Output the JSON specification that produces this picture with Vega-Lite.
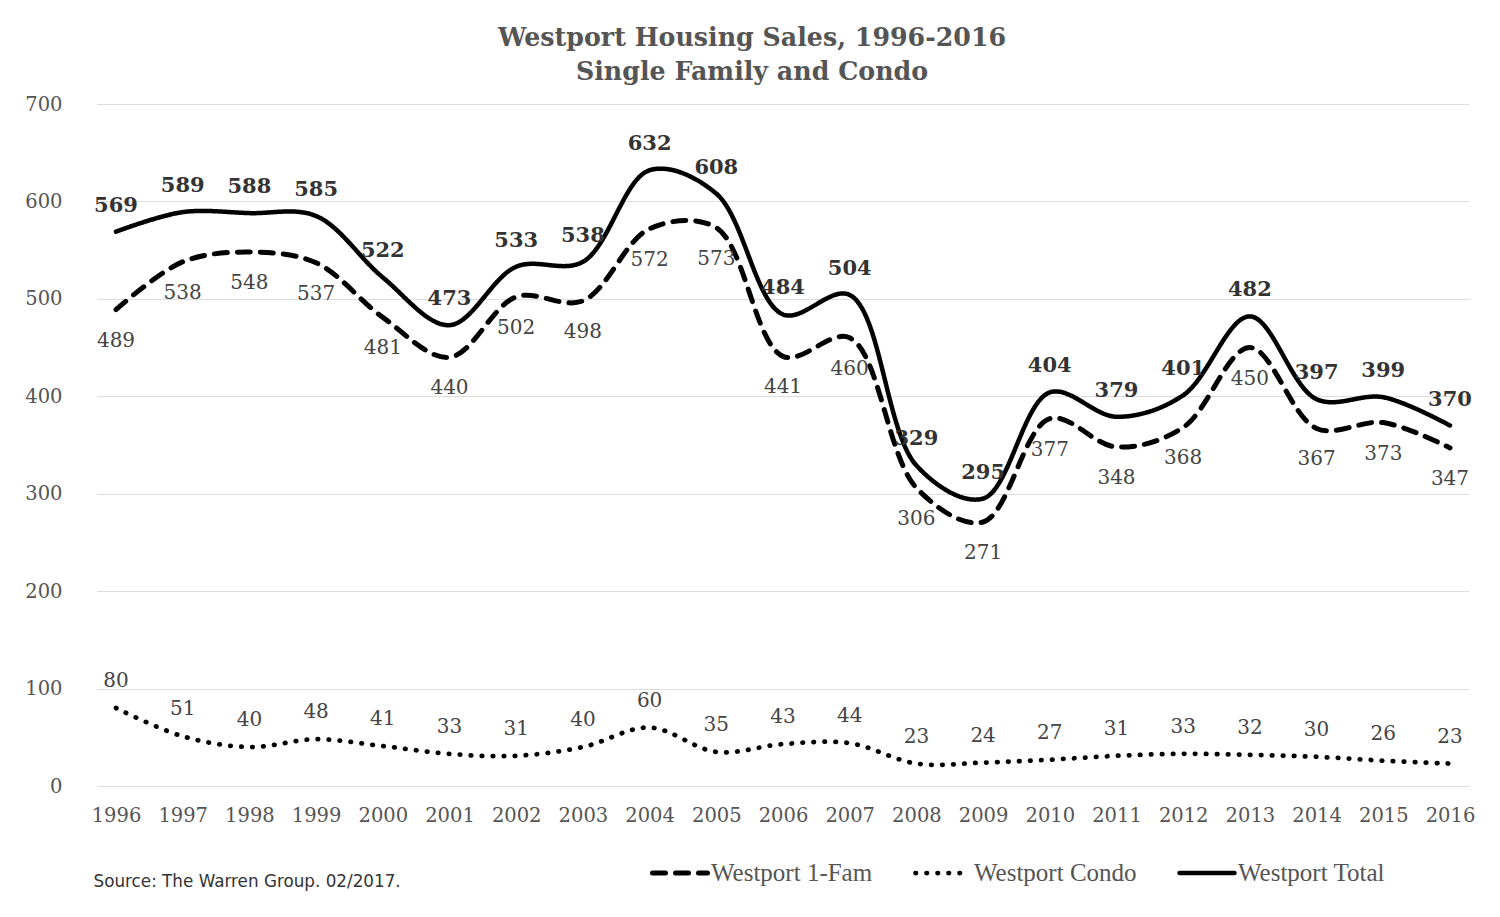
{
  "$schema": "https://vega.github.io/schema/vega-lite/v6.json",
  "width": 1372,
  "height": 682,
  "autosize": {"type": "none"},
  "padding": {"left": 97, "top": 104, "right": 31, "bottom": 131},
  "background": "white",
  "title": {
    "text": ["Westport Housing Sales, 1996-2016", "Single Family and Condo"],
    "anchor": "middle",
    "dx": -31,
    "offset": 9,
    "font": "DejaVu Serif",
    "fontSize": 25.3,
    "fontWeight": "bold",
    "lineHeight": 34,
    "color": "#555555"
  },
  "config": {
    "view": {"stroke": null},
    "axis": {"labelFont": "DejaVu Serif", "labelColor": "#555555", "labelFontSize": 19.5}
  },
  "data": {
    "values": [
      {"year": "1996", "series": "Westport 1-Fam", "value": 489},
      {"year": "1997", "series": "Westport 1-Fam", "value": 538},
      {"year": "1998", "series": "Westport 1-Fam", "value": 548},
      {"year": "1999", "series": "Westport 1-Fam", "value": 537},
      {"year": "2000", "series": "Westport 1-Fam", "value": 481},
      {"year": "2001", "series": "Westport 1-Fam", "value": 440},
      {"year": "2002", "series": "Westport 1-Fam", "value": 502},
      {"year": "2003", "series": "Westport 1-Fam", "value": 498},
      {"year": "2004", "series": "Westport 1-Fam", "value": 572},
      {"year": "2005", "series": "Westport 1-Fam", "value": 573},
      {"year": "2006", "series": "Westport 1-Fam", "value": 441},
      {"year": "2007", "series": "Westport 1-Fam", "value": 460},
      {"year": "2008", "series": "Westport 1-Fam", "value": 306},
      {"year": "2009", "series": "Westport 1-Fam", "value": 271},
      {"year": "2010", "series": "Westport 1-Fam", "value": 377},
      {"year": "2011", "series": "Westport 1-Fam", "value": 348},
      {"year": "2012", "series": "Westport 1-Fam", "value": 368},
      {"year": "2013", "series": "Westport 1-Fam", "value": 450},
      {"year": "2014", "series": "Westport 1-Fam", "value": 367},
      {"year": "2015", "series": "Westport 1-Fam", "value": 373},
      {"year": "2016", "series": "Westport 1-Fam", "value": 347},
      {"year": "1996", "series": "Westport Condo", "value": 80},
      {"year": "1997", "series": "Westport Condo", "value": 51},
      {"year": "1998", "series": "Westport Condo", "value": 40},
      {"year": "1999", "series": "Westport Condo", "value": 48},
      {"year": "2000", "series": "Westport Condo", "value": 41},
      {"year": "2001", "series": "Westport Condo", "value": 33},
      {"year": "2002", "series": "Westport Condo", "value": 31},
      {"year": "2003", "series": "Westport Condo", "value": 40},
      {"year": "2004", "series": "Westport Condo", "value": 60},
      {"year": "2005", "series": "Westport Condo", "value": 35},
      {"year": "2006", "series": "Westport Condo", "value": 43},
      {"year": "2007", "series": "Westport Condo", "value": 44},
      {"year": "2008", "series": "Westport Condo", "value": 23},
      {"year": "2009", "series": "Westport Condo", "value": 24},
      {"year": "2010", "series": "Westport Condo", "value": 27},
      {"year": "2011", "series": "Westport Condo", "value": 31},
      {"year": "2012", "series": "Westport Condo", "value": 33},
      {"year": "2013", "series": "Westport Condo", "value": 32},
      {"year": "2014", "series": "Westport Condo", "value": 30},
      {"year": "2015", "series": "Westport Condo", "value": 26},
      {"year": "2016", "series": "Westport Condo", "value": 23},
      {"year": "1996", "series": "Westport Total", "value": 569},
      {"year": "1997", "series": "Westport Total", "value": 589},
      {"year": "1998", "series": "Westport Total", "value": 588},
      {"year": "1999", "series": "Westport Total", "value": 585},
      {"year": "2000", "series": "Westport Total", "value": 522},
      {"year": "2001", "series": "Westport Total", "value": 473},
      {"year": "2002", "series": "Westport Total", "value": 533},
      {"year": "2003", "series": "Westport Total", "value": 538},
      {"year": "2004", "series": "Westport Total", "value": 632},
      {"year": "2005", "series": "Westport Total", "value": 608},
      {"year": "2006", "series": "Westport Total", "value": 484},
      {"year": "2007", "series": "Westport Total", "value": 504},
      {"year": "2008", "series": "Westport Total", "value": 329},
      {"year": "2009", "series": "Westport Total", "value": 295},
      {"year": "2010", "series": "Westport Total", "value": 404},
      {"year": "2011", "series": "Westport Total", "value": 379},
      {"year": "2012", "series": "Westport Total", "value": 401},
      {"year": "2013", "series": "Westport Total", "value": 482},
      {"year": "2014", "series": "Westport Total", "value": 397},
      {"year": "2015", "series": "Westport Total", "value": 399},
      {"year": "2016", "series": "Westport Total", "value": 370}
    ]
  },
  "encoding": {
    "x": {
      "field": "year",
      "type": "ordinal",
      "scale": {"type": "point", "padding": 0.285},
      "axis": {
        "labelAngle": 0,
        "domain": false,
        "ticks": false,
        "labelPadding": 20,
        "title": "Source: The Warren Group. 02/2017.",
        "titleFont": "DejaVu Sans",
        "titleFontSize": 16.8,
        "titleFontWeight": "normal",
        "titleColor": "#333333",
        "titleAnchor": "start",
        "titleAlign": "left",
        "titleBaseline": "middle",
        "titleX": -4,
        "titleY": 95
      }
    },
    "y": {
      "field": "value",
      "type": "quantitative",
      "scale": {"domain": [0, 700], "nice": false},
      "axis": {
        "values": [0, 100, 200, 300, 400, 500, 600, 700],
        "domain": false,
        "ticks": false,
        "labelPadding": 35,
        "gridColor": "#dddddd",
        "gridWidth": 1,
        "title": null
      }
    }
  },
  "layer": [
    {
      "mark": {"type": "line", "interpolate": "catmull-rom", "color": "#000000", "strokeCap": "round"},
      "encoding": {
        "strokeDash": {
          "field": "series",
          "type": "nominal",
          "scale": {
            "domain": ["Westport 1-Fam", "Westport Condo", "Westport Total"],
            "range": [[13, 10], [0.5, 10.5], [1, 0]]
          },
          "legend": {
            "title": null,
            "orient": "none",
            "direction": "horizontal",
            "legendX": 553,
            "legendY": 739,
            "symbolType": "stroke",
            "symbolSize": 3025,
            "symbolStrokeColor": "#000000",
            "labelFont": "Liberation Serif",
            "labelFontSize": 25,
            "labelColor": "#555555",
            "labelLimit": 0,
            "labelOffset": 1,
            "columnPadding": 33,
            "encode": {"symbols": {"update": {"strokeCap": {"value": "round"}}}}
          }
        },
        "strokeWidth": {
          "field": "series",
          "type": "nominal",
          "scale": {
            "domain": ["Westport 1-Fam", "Westport Condo", "Westport Total"],
            "range": [5, 4.5, 5.5]
          },
          "legend": {
            "title": null,
            "orient": "none",
            "direction": "horizontal",
            "legendX": 553,
            "legendY": 739,
            "symbolType": "stroke",
            "symbolSize": 3025,
            "labelFont": "Liberation Serif",
            "labelFontSize": 25,
            "labelColor": "#555555",
            "labelLimit": 0,
            "labelOffset": 1,
            "columnPadding": 33,
            "encode": {"symbols": {"update": {"strokeCap": {"value": "round"}}}}
          }
        }
      }
    },
    {
      "transform": [{"filter": "datum.series === 'Westport Total'"}],
      "mark": {"type": "text", "dy": -26, "font": "DejaVu Serif", "fontSize": 21, "fontWeight": "bold", "color": "#333333"},
      "encoding": {"text": {"field": "value", "type": "quantitative"}}
    },
    {
      "transform": [{"filter": "datum.series === 'Westport 1-Fam'"}],
      "mark": {"type": "text", "dy": 31, "font": "DejaVu Serif", "fontSize": 20, "color": "#444444"},
      "encoding": {"text": {"field": "value", "type": "quantitative"}}
    },
    {
      "transform": [{"filter": "datum.series === 'Westport Condo'"}],
      "mark": {"type": "text", "dy": -27, "font": "DejaVu Serif", "fontSize": 20, "color": "#444444"},
      "encoding": {"text": {"field": "value", "type": "quantitative"}}
    }
  ]
}
